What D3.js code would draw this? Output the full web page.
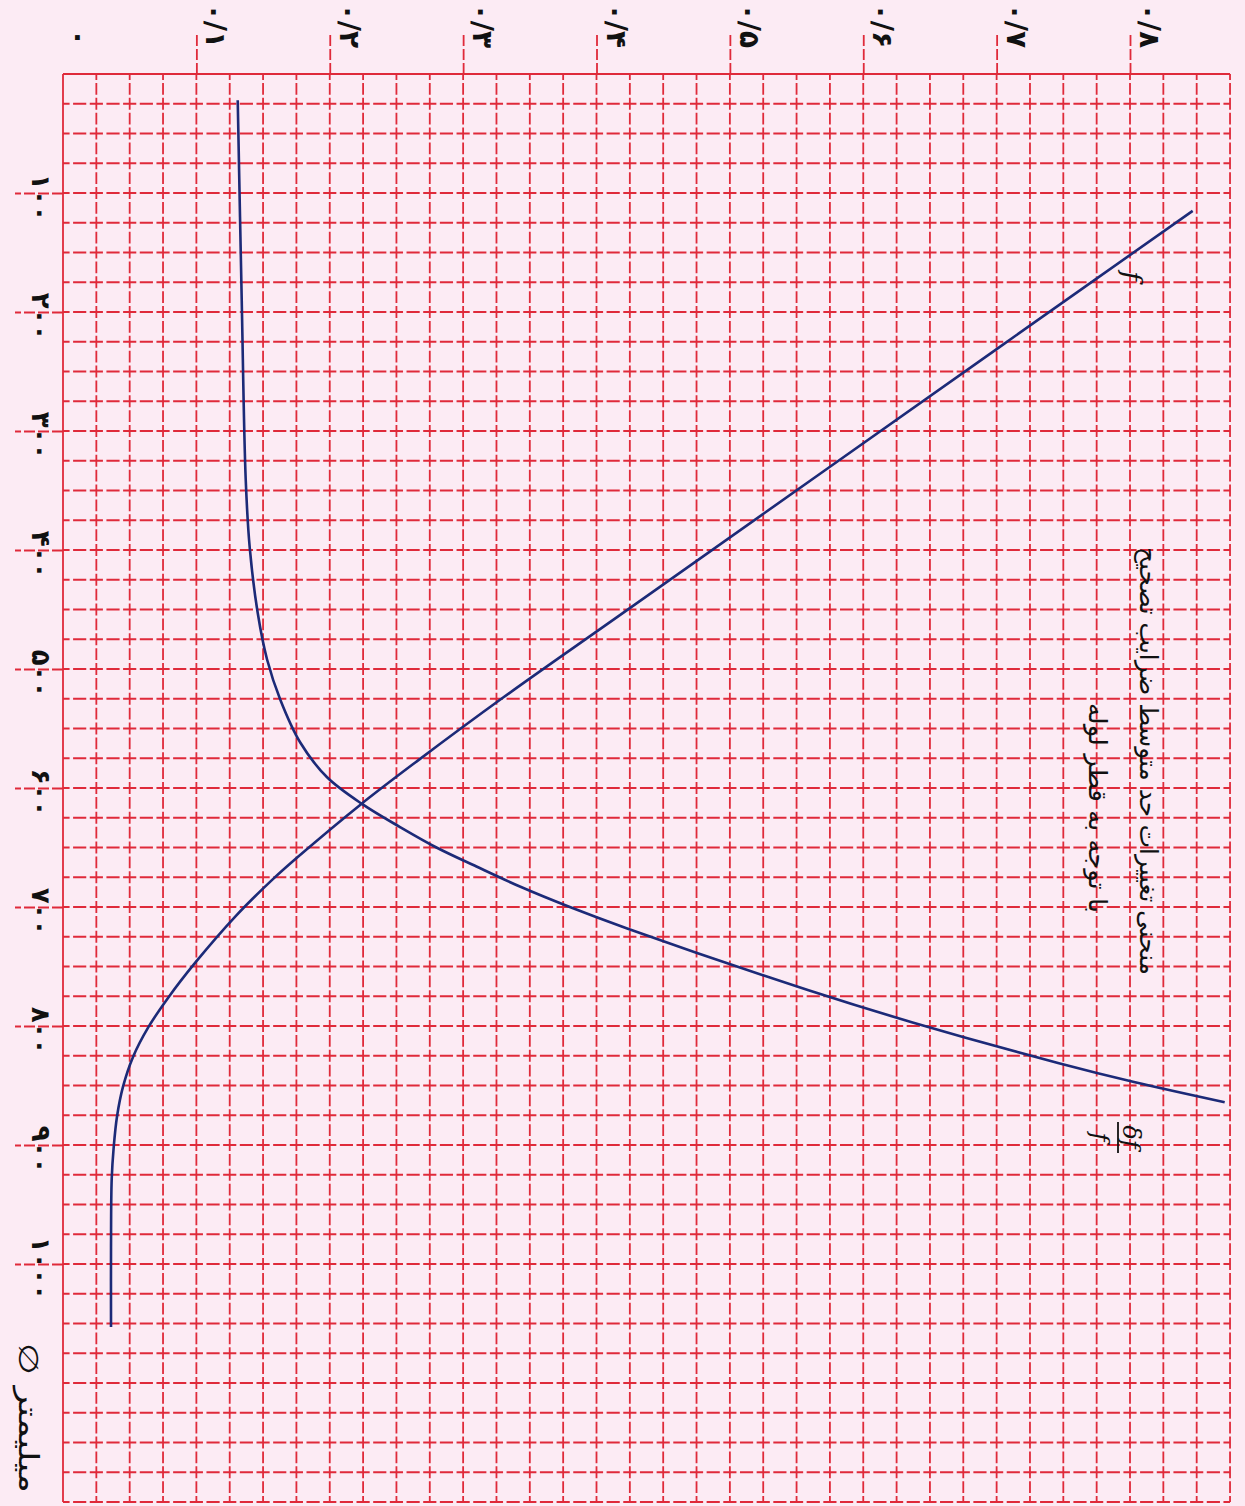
<!DOCTYPE html>
<html>
<head>
<meta charset="utf-8">
<script src="https://cdn.jsdelivr.net/npm/d3@7"></script>
<style>
html, body { margin: 0; padding: 0; background: #fcebf4; }
svg { display: block; }
</style>
</head>
<body>
<svg id="chart" width="1245" height="1506"></svg>
<script>
// coefficient axis (drawn across the top, page is turned)
var xTicks = [0, 0.1, 0.2, 0.3, 0.4, 0.5, 0.6, 0.7, 0.8];
var xTickLabels = ["۰", "۰/۱", "۰/۲", "۰/۳", "۰/۴", "۰/۵", "۰/۶", "۰/۷", "۰/۸"];

// pipe diameter axis, mm (down the left side)
var yTicks = [100, 200, 300, 400, 500, 600, 700, 800, 900, 1000];
var yTickLabels = ["۱۰۰", "۲۰۰", "۳۰۰", "۴۰۰", "۵۰۰", "۶۰۰", "۷۰۰", "۸۰۰", "۹۰۰", "۱۰۰۰"];

// f curve
var fDiam  = [115, 228, 452, 524, 577, 614, 658, 677, 707, 747, 776, 801, 826, 851, 876, 902, 929, 986, 1053];
var fValue = [0.847, 0.704, 0.421, 0.330, 0.266, 0.223, 0.176, 0.157, 0.130, 0.099, 0.079, 0.064, 0.0525, 0.045, 0.0405, 0.038, 0.0365, 0.036, 0.036];

// δf/f curve
var dfDiam  = [22, 190, 341, 398, 453, 492, 526, 562, 591, 614, 633, 650, 666, 683, 700, 718, 770, 797, 831, 847, 864];
var dfValue = [0.131, 0.134, 0.137, 0.140, 0.146, 0.153, 0.163, 0.178, 0.198, 0.225, 0.253, 0.280, 0.310, 0.343, 0.380, 0.423, 0.559, 0.637, 0.746, 0.803, 0.871];

var titleLines = ["منحنی تغییرات حد متوسط ضرایب تصحیح", "با توجه به قطر لوله"];
var unitLabel = "∅ میلیمتر";

var red = "#df2a3a";
var blue = "#1c2a78";
var font = "DejaVu Sans";

var svg = d3.select("#chart");
svg.append("rect").attr("width", 1245).attr("height", 1506).attr("fill", "#fcebf4");

var x = d3.scaleLinear().domain([0, 0.8]).range([63, 1130]);
var y = d3.scaleLinear().domain([0, 1200]).range([74, 1502]);

var cellW = x(0.025) - x(0);
var cellH = y(25) - y(0);

// graph paper
var grid = svg.append("g");
var vLines = d3.range(0, 36).map(function(i){ return i * 0.025; });
var hLines = d3.range(0, 49).map(function(i){ return i * 25; });

grid.selectAll("line.v").data(vLines).join("line")
	.attr("class", "v")
	.attr("x1", function(d){ return x(d); })
	.attr("x2", function(d){ return x(d); })
	.attr("y1", y(0))
	.attr("y2", y(1200))
	.attr("stroke", red)
	.attr("stroke-width", 1.8)
	.attr("stroke-dasharray", function(d, i){ return i == 0 ? null : (cellH / 2 - 3) + " 3"; })
	.attr("stroke-dashoffset", cellH / 4 - 1.5);

grid.selectAll("line.h").data(hLines).join("line")
	.attr("class", "h")
	.attr("x1", x(0))
	.attr("x2", x(0.875))
	.attr("y1", function(d){ return y(d); })
	.attr("y2", function(d){ return y(d); })
	.attr("stroke", red)
	.attr("stroke-width", 1.8)
	.attr("stroke-dasharray", function(d, i){ return i == 0 ? null : (cellW / 2 - 3.5) + " 3.5"; })
	.attr("stroke-dashoffset", cellW / 4 - 1.75);

// top axis
var xAxis = d3.axisTop(x).tickValues(xTicks).tickSize(39).tickPadding(0)
	.tickFormat(function(d, i){ return xTickLabels[i]; });
var gx = svg.append("g").attr("transform", "translate(0," + y(0) + ")").call(xAxis);
gx.attr("font-family", font).attr("font-size", 28).attr("font-weight", "bold");
gx.select(".domain").remove();
gx.selectAll(".tick line")
	.attr("stroke", red).attr("stroke-width", 1.8).attr("stroke-dasharray", "11 3")
	.filter(function(d){ return d === 0; }).remove();
gx.selectAll(".tick text")
	.attr("y", 0).attr("dy", null)
	.attr("fill", "#111")
	.attr("text-anchor", "end")
	.attr("dominant-baseline", "central")
	.style("direction", "ltr").style("unicode-bidi", "bidi-override")
	.attr("transform", function(d){ return d === 0 ? "translate(16,-28) rotate(90)" : "translate(19,-26) rotate(90)"; });

// left axis
var yAxis = d3.axisLeft(y).tickValues(yTicks).tickSize(48).tickPadding(0)
	.tickFormat(function(d, i){ return yTickLabels[i]; });
var gy = svg.append("g").attr("transform", "translate(" + x(0) + ",0)").call(yAxis);
gy.attr("font-family", font).attr("font-size", 26).attr("font-weight", "bold");
gy.select(".domain").remove();
gy.selectAll(".tick line")
	.attr("stroke", red).attr("stroke-width", 1.8).attr("stroke-dasharray", "11 3");
gy.selectAll(".tick text")
	.attr("x", 0).attr("dy", null)
	.attr("fill", "#111")
	.attr("text-anchor", "middle")
	.attr("dominant-baseline", "central")
	.style("direction", "ltr").style("unicode-bidi", "bidi-override")
	.attr("transform", "translate(-22,4) rotate(90)");

// curves
var line = d3.line()
	.x(function(p){ return x(p[1]); })
	.y(function(p){ return y(p[0]); })
	.curve(d3.curveCatmullRom.alpha(0.5));

svg.append("path").datum(d3.zip(fDiam, fValue))
	.attr("d", line).attr("fill", "none").attr("stroke", blue).attr("stroke-width", 2.6);
svg.append("path").datum(d3.zip(dfDiam, dfValue))
	.attr("d", line).attr("fill", "none").attr("stroke", blue).attr("stroke-width", 2.6);

// labels
svg.append("text").text("f")
	.attr("transform", "translate(1132,276) rotate(90)")
	.attr("text-anchor", "middle").attr("dominant-baseline", "central")
	.attr("font-family", "DejaVu Serif").attr("font-style", "italic")
	.attr("font-size", 26).attr("fill", "#111");

var frac = svg.append("g").attr("transform", "translate(1118,1137) rotate(90)");
frac.append("line").attr("x1", -15).attr("x2", 16).attr("y1", 0).attr("y2", 0)
	.attr("stroke", "#111").attr("stroke-width", 1.8);
frac.append("text").text("δf").attr("x", 0).attr("y", -5)
	.attr("text-anchor", "middle").attr("font-family", "DejaVu Serif").attr("font-style", "italic")
	.attr("font-size", 24).attr("fill", "#111");
frac.append("text").text("f").attr("x", 0).attr("y", 26)
	.attr("text-anchor", "middle").attr("font-family", "DejaVu Serif").attr("font-style", "italic")
	.attr("font-size", 24).attr("fill", "#111");

var titlePos = [[1148, 761, 428], [1097, 808, 210]];
titleLines.forEach(function(t, i){
	svg.append("text").text(t)
		.attr("transform", "translate(" + titlePos[i][0] + "," + titlePos[i][1] + ") rotate(90)")
		.attr("text-anchor", "middle").attr("dominant-baseline", "central")
		.attr("textLength", titlePos[i][2]).attr("lengthAdjust", "spacingAndGlyphs")
		.attr("font-family", font).attr("font-size", 25).attr("fill", "#111");
});

svg.append("text").text(unitLabel)
	.attr("transform", "translate(28,1418) rotate(90)")
	.attr("text-anchor", "middle").attr("dominant-baseline", "central")
	.attr("textLength", 150).attr("lengthAdjust", "spacingAndGlyphs")
	.attr("font-family", font).attr("font-size", 27).attr("fill", "#111");
</script>
</body>
</html>
